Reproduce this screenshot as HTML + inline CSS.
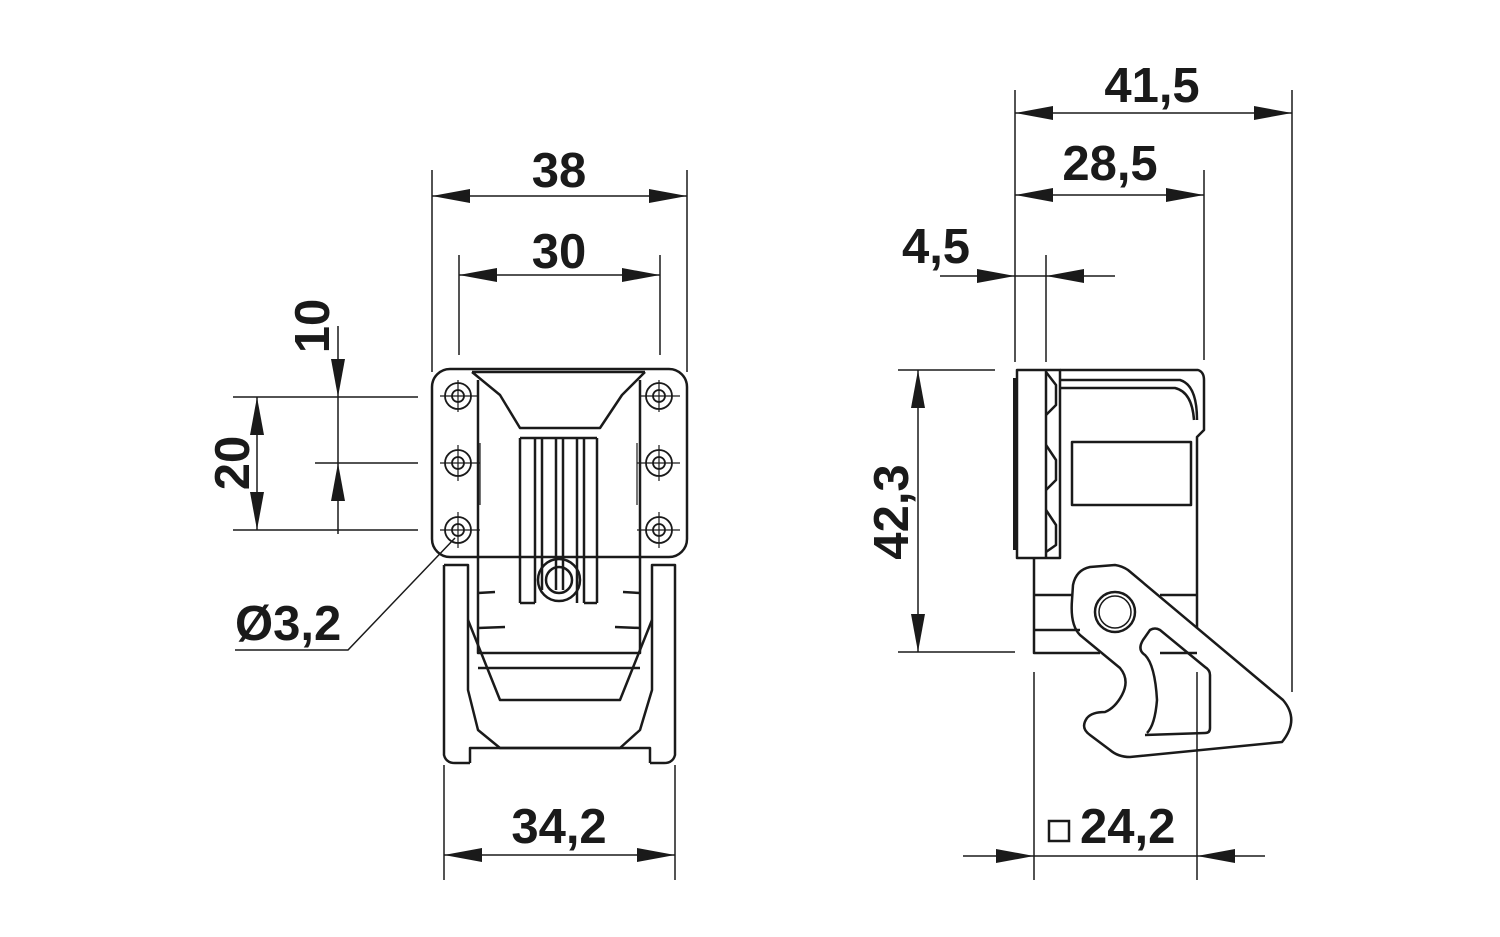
<!DOCTYPE html>
<html><head><meta charset="utf-8"><style>
html,body{margin:0;padding:0;background:#fff;}
svg{display:block;}
text{font-family:"Liberation Sans",sans-serif;font-weight:bold;font-size:49px;fill:#1a1a1a;}
</style></head><body>
<svg width="1500" height="937" viewBox="0 0 1500 937" xmlns="http://www.w3.org/2000/svg">
<g stroke="#1a1a1a" fill="none" stroke-width="1.5">
<line x1="432" y1="170" x2="432" y2="372"/>
<line x1="687" y1="170" x2="687" y2="372"/>
<line x1="432" y1="196" x2="687" y2="196"/>
<line x1="459" y1="255" x2="459" y2="355"/>
<line x1="660" y1="255" x2="660" y2="355"/>
<line x1="459" y1="275" x2="660" y2="275"/>
<line x1="444" y1="765" x2="444" y2="880"/>
<line x1="675" y1="765" x2="675" y2="880"/>
<line x1="444" y1="855" x2="675" y2="855"/>
<line x1="233" y1="397" x2="418" y2="397"/>
<line x1="315" y1="463" x2="418" y2="463"/>
<line x1="233" y1="530" x2="418" y2="530"/>
<line x1="257" y1="397" x2="257" y2="530"/>
<line x1="338" y1="326" x2="338" y2="534"/>
<polyline points="235,650 348,650 455,538"/>
<line x1="1015" y1="90" x2="1015" y2="362"/>
<line x1="1292" y1="90" x2="1292" y2="692"/>
<line x1="1015" y1="113" x2="1292" y2="113"/>
<line x1="1204" y1="170" x2="1204" y2="360"/>
<line x1="1015" y1="195" x2="1204" y2="195"/>
<line x1="1046" y1="255" x2="1046" y2="362"/>
<line x1="940" y1="276" x2="1115" y2="276"/>
<line x1="1034" y1="672" x2="1034" y2="880"/>
<line x1="1197" y1="672" x2="1197" y2="880"/>
<line x1="963" y1="856" x2="1265" y2="856"/>
<line x1="898" y1="370" x2="995" y2="370"/>
<line x1="898" y1="652" x2="1015" y2="652"/>
<line x1="918" y1="370" x2="918" y2="652"/>
</g>
<g fill="#1a1a1a">
<polygon points="432,196 470,189 470,203"/><polygon points="687,196 649,189 649,203"/>
<polygon points="459,275 497,268 497,282"/><polygon points="660,275 622,268 622,282"/>
<polygon points="444,855 482,848 482,862"/><polygon points="675,855 637,848 637,862"/>
<polygon points="257,397 250,435 264,435"/><polygon points="257,530 250,492 264,492"/>
<polygon points="338,397 331,359 345,359"/><polygon points="338,463 331,501 345,501"/>
<polygon points="1015,113 1053,106 1053,120"/><polygon points="1292,113 1254,106 1254,120"/>
<polygon points="1015,195 1053,188 1053,202"/><polygon points="1204,195 1166,188 1166,202"/>
<polygon points="1015,276 977,269 977,283"/><polygon points="1046,276 1084,269 1084,283"/>
<polygon points="1034,856 996,849 996,863"/><polygon points="1197,856 1235,849 1235,863"/>
<polygon points="918,370 911,408 925,408"/><polygon points="918,652 911,614 925,614"/>
</g>
<text x="559" y="187" text-anchor="middle">38</text>
<text x="559" y="268" text-anchor="middle">30</text>
<text x="559" y="843" text-anchor="middle">34,2</text>
<text x="235" y="640">Ø3,2</text>
<text transform="translate(249,463) rotate(-90)" text-anchor="middle">20</text>
<text transform="translate(329,326) rotate(-90)" text-anchor="middle">10</text>
<text x="1152" y="102" text-anchor="middle">41,5</text>
<text x="1110" y="180" text-anchor="middle">28,5</text>
<text x="936" y="263" text-anchor="middle">4,5</text>
<text x="1080" y="843">24,2</text>
<rect x="1049" y="821" width="20" height="20" fill="none" stroke="#1a1a1a" stroke-width="2.5"/>
<text transform="translate(908,512) rotate(-90)" text-anchor="middle">42,3</text>

<g stroke="#1a1a1a" fill="none" stroke-width="2.5" stroke-linejoin="round">
<rect x="432" y="369" width="255" height="188" rx="18"/>
<path d="M472,372 L645,372 M472,372 L500,395 L520,428 L600,428 L622,395 L645,372"/>
<line x1="478" y1="380" x2="478" y2="557"/>
<line x1="640" y1="380" x2="640" y2="557"/>
<line x1="520" y1="438" x2="520" y2="603"/><line x1="597" y1="438" x2="597" y2="603"/>
<line x1="520" y1="438" x2="597" y2="438"/>
<line x1="535" y1="438" x2="535" y2="603"/><line x1="542" y1="438" x2="542" y2="590"/>
<line x1="556" y1="438" x2="556" y2="590"/><line x1="563" y1="438" x2="563" y2="590"/>
<line x1="577" y1="438" x2="577" y2="603"/><line x1="584" y1="438" x2="584" y2="603"/>
<line x1="520" y1="603" x2="535" y2="603"/><line x1="584" y1="603" x2="597" y2="603"/>
<circle cx="559" cy="580" r="21"/><circle cx="559" cy="580" r="13"/>
<path d="M444,565 L444,755 Q446,763 455,763 L470,763 M444,565 L468,565 L468,690 L478,730 L500,748 L620,748 L640,730 L652,690 L652,565 L675,565 L675,755 Q673,763 664,763 L650,763"/>
<path d="M478,557 L478,653 L640,653 L640,557"/>
<path d="M468,620 L500,700 L620,700 L652,620"/>
<line x1="478" y1="668" x2="640" y2="668"/>
<path d="M470,763 L470,748 L650,748 L650,763"/>
<path d="M478,593 L495,592 M478,628 L505,627 M640,593 L623,592 M640,628 L615,627"/>
<g stroke-width="1.8">
<circle cx="458" cy="396" r="13"/><circle cx="458" cy="463" r="13"/><circle cx="458" cy="530" r="13"/>
<circle cx="659" cy="396" r="13"/><circle cx="659" cy="463" r="13"/><circle cx="659" cy="530" r="13"/>
<circle cx="458" cy="396" r="6"/><circle cx="458" cy="463" r="6"/><circle cx="458" cy="530" r="6"/>
<circle cx="659" cy="396" r="6"/><circle cx="659" cy="463" r="6"/><circle cx="659" cy="530" r="6"/>
</g>
<g stroke-width="1.2">
<path d="M440,396 L478,396 M458,380 L458,412 M440,463 L480,463 M458,445 L458,481 M440,530 L480,530 M458,512 L458,548"/>
<path d="M640,396 L680,396 M659,380 L659,412 M637,463 L680,463 M659,445 L659,481 M637,530 L680,530 M659,512 L659,548"/>
<path d="M480,443 L480,505 M637,443 L637,505"/>
</g>
</g>

<g stroke="#1a1a1a" fill="none" stroke-width="2.5" stroke-linejoin="round">
<rect x="1017" y="370" width="43" height="188"/>
<line x1="1015" y1="378" x2="1015" y2="550" stroke-width="4"/>
<path d="M1046,370 L1046,558"/>
<path d="M1046,372 L1056,385 L1056,405 L1046,415 M1046,445 L1056,460 L1056,480 L1046,490 M1046,510 L1056,525 L1056,545 L1046,552"/>
<path d="M1060,370 L1198,370 Q1204,372 1204,380 L1204,430 L1197,437 L1197,628"/>
<path d="M1060,380 L1180,380 Q1197,385 1197,420"/>
<path d="M1060,388 L1175,388 Q1192,392 1194,420"/>
<rect x="1072" y="442" width="119" height="63"/>
<path d="M1034,558 L1034,653 L1100,653"/>
<path d="M1034,595 L1073,595 M1034,630 L1080,630 M1160,595 L1197,595"/>
<path d="M1160,653 L1197,653"/>
<path d="M1090,567 L1115,565 Q1122,566 1128,570 L1283,700 Q1300,720 1282,742 L1130,757 Q1118,757 1110,750 L1090,735 Q1080,728 1087,718 Q1092,712 1105,712 Q1115,708 1122,695 Q1130,680 1120,668 L1080,635 Q1070,625 1072,600 L1073,585 Q1076,570 1090,567 Z"/>
<path d="M1145,735 L1205,733 Q1210,733 1210,728 L1210,675 Q1210,670 1205,667 L1160,630 Q1155,627 1150,630 L1143,640 Q1137,650 1145,655 Q1155,665 1157,700 Q1155,725 1147,733"/>
<circle cx="1115" cy="612" r="20"/><circle cx="1115" cy="612" r="16" stroke-width="1.5"/>
</g>
</svg>
</body></html>
